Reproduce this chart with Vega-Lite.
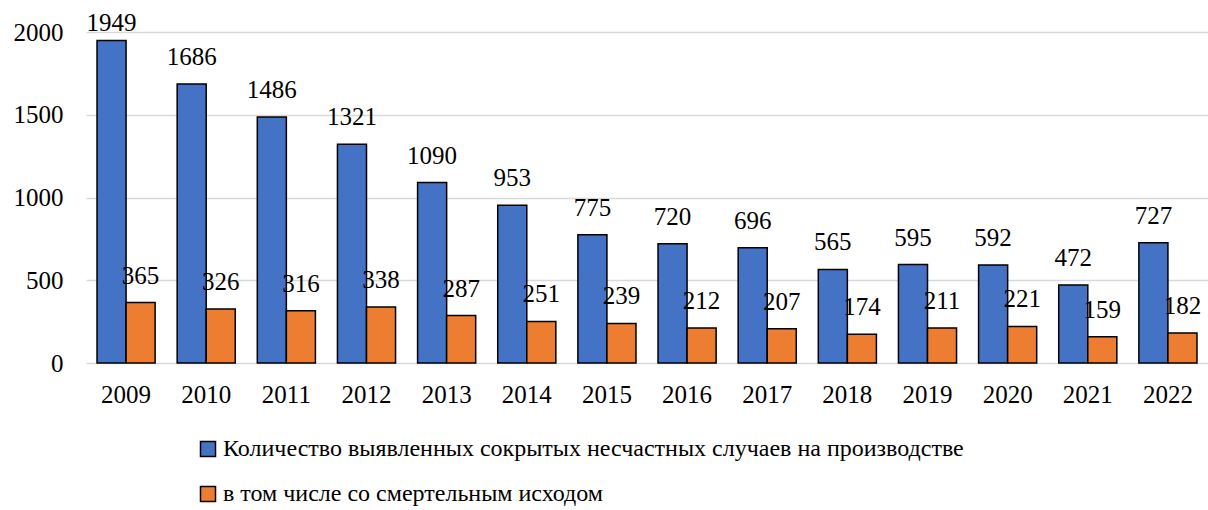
{
  "$schema": "https://vega.github.io/schema/vega-lite/v6.json",
  "width": 1122,
  "height": 331,
  "autosize": {"type": "none"},
  "padding": {"left": 86, "top": 32, "right": 0, "bottom": 147},
  "background": "white",
  "config": {
    "view": {"stroke": null},
    "font": "Liberation Serif",
    "axis": {"labelFont": "Liberation Serif", "labelColor": "#000000"},
    "legend": {"labelFont": "Liberation Serif", "labelColor": "#000000"}
  },
  "data": {
    "values": [
      {"year": "2009", "series": "Количество выявленных сокрытых несчастных случаев на производстве", "value": 1949},
      {"year": "2010", "series": "Количество выявленных сокрытых несчастных случаев на производстве", "value": 1686},
      {"year": "2011", "series": "Количество выявленных сокрытых несчастных случаев на производстве", "value": 1486},
      {"year": "2012", "series": "Количество выявленных сокрытых несчастных случаев на производстве", "value": 1321},
      {"year": "2013", "series": "Количество выявленных сокрытых несчастных случаев на производстве", "value": 1090},
      {"year": "2014", "series": "Количество выявленных сокрытых несчастных случаев на производстве", "value": 953},
      {"year": "2015", "series": "Количество выявленных сокрытых несчастных случаев на производстве", "value": 775},
      {"year": "2016", "series": "Количество выявленных сокрытых несчастных случаев на производстве", "value": 720},
      {"year": "2017", "series": "Количество выявленных сокрытых несчастных случаев на производстве", "value": 696},
      {"year": "2018", "series": "Количество выявленных сокрытых несчастных случаев на производстве", "value": 565},
      {"year": "2019", "series": "Количество выявленных сокрытых несчастных случаев на производстве", "value": 595},
      {"year": "2020", "series": "Количество выявленных сокрытых несчастных случаев на производстве", "value": 592},
      {"year": "2021", "series": "Количество выявленных сокрытых несчастных случаев на производстве", "value": 472},
      {"year": "2022", "series": "Количество выявленных сокрытых несчастных случаев на производстве", "value": 727},
      {"year": "2009", "series": "в том числе со смертельным исходом", "value": 365},
      {"year": "2010", "series": "в том числе со смертельным исходом", "value": 326},
      {"year": "2011", "series": "в том числе со смертельным исходом", "value": 316},
      {"year": "2012", "series": "в том числе со смертельным исходом", "value": 338},
      {"year": "2013", "series": "в том числе со смертельным исходом", "value": 287},
      {"year": "2014", "series": "в том числе со смертельным исходом", "value": 251},
      {"year": "2015", "series": "в том числе со смертельным исходом", "value": 239},
      {"year": "2016", "series": "в том числе со смертельным исходом", "value": 212},
      {"year": "2017", "series": "в том числе со смертельным исходом", "value": 207},
      {"year": "2018", "series": "в том числе со смертельным исходом", "value": 174},
      {"year": "2019", "series": "в том числе со смертельным исходом", "value": 211},
      {"year": "2020", "series": "в том числе со смертельным исходом", "value": 221},
      {"year": "2021", "series": "в том числе со смертельным исходом", "value": 159},
      {"year": "2022", "series": "в том числе со смертельным исходом", "value": 182}
    ]
  },
  "encoding": {
    "x": {
      "field": "year",
      "type": "nominal",
      "title": null,
      "scale": {"paddingInner": 0.275, "paddingOuter": 0.1375},
      "axis": {
        "labelAngle": 0,
        "labelFontSize": 25,
        "labelPadding": 19,
        "ticks": false,
        "domain": false,
        "grid": false
      }
    },
    "xOffset": {
      "field": "series",
      "type": "nominal",
      "sort": ["Количество выявленных сокрытых несчастных случаев на производстве", "в том числе со смертельным исходом"]
    }
  },
  "layer": [
    {
      "mark": {"type": "bar", "stroke": "#000000", "strokeWidth": 1.5},
      "encoding": {
        "y": {
          "field": "value",
          "type": "quantitative",
          "title": null,
          "scale": {"domain": [0, 2000], "nice": false},
          "axis": {
            "values": [0, 500, 1000, 1500, 2000],
            "format": "d",
            "labelFontSize": 25,
            "labelPadding": 23,
            "ticks": false,
            "domain": false,
            "grid": true,
            "gridColor": "#d9d9d9",
            "gridWidth": 1.5
          }
        },
        "color": {
          "field": "series",
          "type": "nominal",
          "title": null,
          "sort": ["Количество выявленных сокрытых несчастных случаев на производстве", "в том числе со смертельным исходом"],
          "scale": {"range": ["#4472C4", "#ED7D31"]},
          "legend": {
            "orient": "none",
            "legendX": 110,
            "legendY": 405,
            "direction": "vertical",
            "symbolType": "square",
            "symbolSize": 225,
            "symbolStrokeColor": "#000000",
            "symbolStrokeWidth": 1.5,
            "labelFontSize": 24,
            "labelOffset": 3,
            "labelLimit": 1000,
            "rowPadding": 21
          }
        }
      }
    },
    {
      "transform": [
        {"calculate": "min(datum.value, 1890)", "as": "labelAnchor"}
      ],
      "mark": {"type": "text", "baseline": "bottom", "dy": -14, "fontSize": 25, "color": "#000000"},
      "encoding": {
        "y": {"field": "labelAnchor", "type": "quantitative"},
        "text": {"field": "value", "type": "quantitative"}
      }
    }
  ]
}
